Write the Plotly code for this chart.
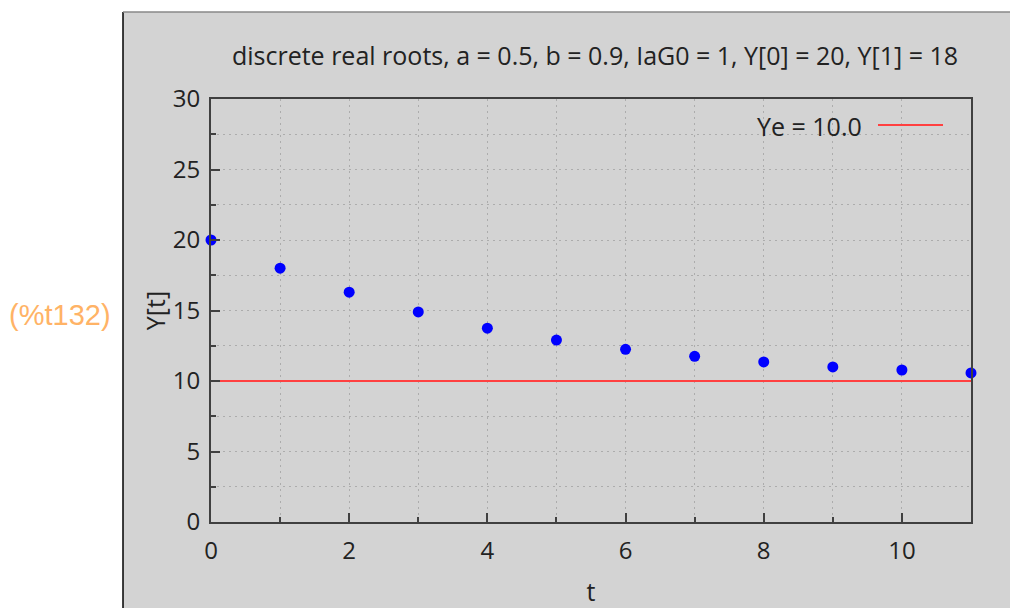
import plotly.graph_objects as go

# Data
t_vals = [0, 1, 2, 3, 4, 5, 6, 7, 8, 9, 10, 11]
Y_vals = [20, 18, 16.3, 14.9, 13.75, 12.9, 12.25, 11.75, 11.35, 11.0, 10.78, 10.57]
Ye = 10.0
title_text = "discrete real roots, a = 0.5, b = 0.9, IaG0 = 1, Y[0] = 20, Y[1] = 18"
label_text = "(%t132)"

W, H = 1010, 608
L, R, T, B = 211, 971, 99, 522  # plot area pixels
pw, ph = R - L, B - T

def px(x):
    return (x - L) / pw

def py(y):
    return (B - y) / ph

FONT = "Open Sans"
TXT = "#222222"
GRAY = "#d3d3d3"
AX = "#404040"
GRID = "#acacac"

fig = go.Figure()

fig.add_trace(go.Scatter(
    x=[t_vals[0], t_vals[-1]], y=[Ye, Ye], mode="lines",
    line=dict(color="#ff4040", width=2), showlegend=False, hoverinfo="skip"))

fig.add_trace(go.Scatter(
    x=t_vals, y=Y_vals, mode="markers",
    marker=dict(color="#0000ff", size=11, line=dict(width=0)),
    showlegend=False, cliponaxis=False))

shapes = [
    dict(type="rect", xref="paper", yref="paper", x0=px(123), x1=px(1010),
         y0=py(608), y1=py(12), fillcolor=GRAY, line=dict(width=0), layer="below"),
    dict(type="line", xref="paper", yref="paper", x0=px(123), x1=px(123),
         y0=py(608), y1=py(12), line=dict(color="#000000", width=1.5)),
    dict(type="line", xref="paper", yref="paper", x0=px(123), x1=px(1010),
         y0=py(12), y1=py(12), line=dict(color="#888888", width=1.5)),
    # legend sample line
    dict(type="line", xref="paper", yref="paper", x0=px(878), x1=px(943),
         y0=py(125), y1=py(125), line=dict(color="#ff4040", width=2)),
]

annotations = [
    dict(text=f"Ye = {Ye:.1f}", xref="paper", yref="paper", x=px(864), y=py(126),
         xanchor="right", yanchor="middle", showarrow=False,
         font=dict(family=FONT, size=25, color=TXT)),
    dict(text=label_text, xref="paper", yref="paper", x=px(113), y=py(315),
         xanchor="right", yanchor="middle", showarrow=False,
         font=dict(family="Liberation Sans", size=29, color="#ffb366")),
]

axis_common = dict(
    showline=True, linecolor=AX, linewidth=2, mirror=True,
    ticks="inside", ticklen=9, tickcolor=AX, tickwidth=2,
    showgrid=True, gridcolor=GRID, griddash="2px,4px", gridwidth=1,
    zeroline=False, automargin=False,
    tickfont=dict(family=FONT, size=24, color=TXT),
)

fig.update_layout(
    width=W, height=H, autosize=False,
    margin=dict(l=L, r=W - R, t=T, b=H - B, autoexpand=False),
    paper_bgcolor="#ffffff", plot_bgcolor=GRAY,
    title=dict(text=title_text, x=595 / W, xanchor="center",
               y=1 - 56 / H, yanchor="middle",
               font=dict(family=FONT, size=25, color=TXT)),
    xaxis=dict(range=[0, 11], dtick=2, tick0=0, ticklabelstandoff=6,
               minor=dict(dtick=1, ticks="inside", ticklen=5, tickcolor=AX,
                          showgrid=True, gridcolor=GRID, griddash="2px,4px"),
               title=dict(text="t", font=dict(family=FONT, size=25, color=TXT), standoff=20),
               **axis_common),
    yaxis=dict(range=[0, 30], dtick=5, tick0=0, ticklabelstandoff=4,
               minor=dict(dtick=2.5, ticks="inside", ticklen=5, tickcolor=AX,
                          showgrid=True, gridcolor=GRID, griddash="2px,4px"),
               title=dict(text="Y[t]", font=dict(family=FONT, size=25, color=TXT), standoff=0),
               **axis_common),
    shapes=shapes, annotations=annotations, showlegend=False,
)

fig.write_html("out.html", config={"displayModeBar": False},
               post_script="document.body.style.margin='0';document.body.style.overflow='hidden';")
